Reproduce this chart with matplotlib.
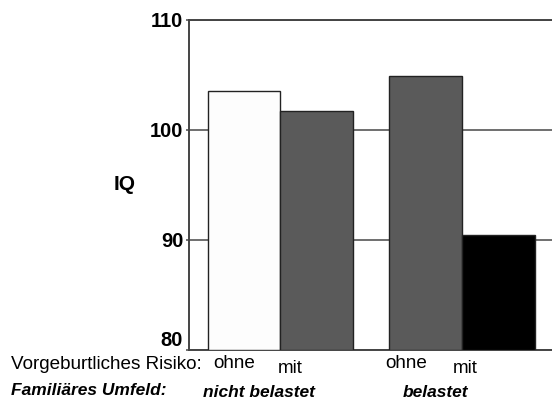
import numpy as np
import matplotlib
matplotlib.use('Agg')
import matplotlib.pyplot as plt

plt.rcParams['font.family'] = ['Liberation Sans', 'DejaVu Sans']

# IQ values per group
risk_labels = ['ohne', 'mit', 'ohne', 'mit']
family_labels = ['nicht belastet', 'belastet']
iq = [103.5, 101.7, 104.9, 90.4]
bar_pos = [0.5, 1.5, 3.0, 4.0]
colors = ['#fdfdfd', '#5a5a5a', '#5a5a5a', '#000000']

fig = plt.figure(figsize=(5.52, 4.05), dpi=100)
ax = fig.add_axes([0.342, 0.136, 0.658, 0.815])

ax.bar(bar_pos, np.array(iq) - 80, width=1.0, bottom=80, color=colors,
       edgecolor='#222222', linewidth=1.0, zorder=3)

ax.set_ylim(80, 110)
ax.set_xlim(-0.26, 4.74)
ax.set_yticks([80, 90, 100, 110])
ax.set_yticklabels(['80', '90', '100', '110'], fontsize=14.5, fontweight='bold')
ax.get_yticklabels()[0].set_va('bottom')
ax.set_xticks([])
ax.yaxis.grid(True, color='#6f6f6f', linewidth=1.4, zorder=0)
ax.tick_params(axis='y', length=2, width=1.2, color='#555555', pad=2)
for s in ['left', 'bottom', 'top']:
    ax.spines[s].set_color('#444444')
    ax.spines[s].set_linewidth(1.4)
ax.spines['right'].set_visible(False)

fig.text(0.225, 0.545, 'IQ', fontsize=15, fontweight='bold', ha='center', va='center')

# category labels under the bars
fig.text(0.020, 0.100, 'Vorgeburtliches Risiko:', fontsize=13.6,
         ha='left', va='center')
tr = ax.get_xaxis_transform()
label_x = [0.37, 1.13, 2.73, 3.54]
label_y = [-0.04, -0.056, -0.04, -0.056]
for x, y, lab in zip(label_x, label_y, risk_labels):
    ax.text(x, y, lab, transform=tr, fontsize=13.6, ha='center', va='center')

fig.text(0.020, 0.035, 'Familiäres Umfeld:', fontsize=12.5,
         style='italic', fontweight='bold', ha='left', va='center')
for x, lab in zip([0.70, 3.13], family_labels):
    ax.text(x, -0.128, lab, transform=tr, fontsize=12.5,
            style='italic', fontweight='bold', ha='center', va='center')

fig.savefig('out.png', dpi=100)
